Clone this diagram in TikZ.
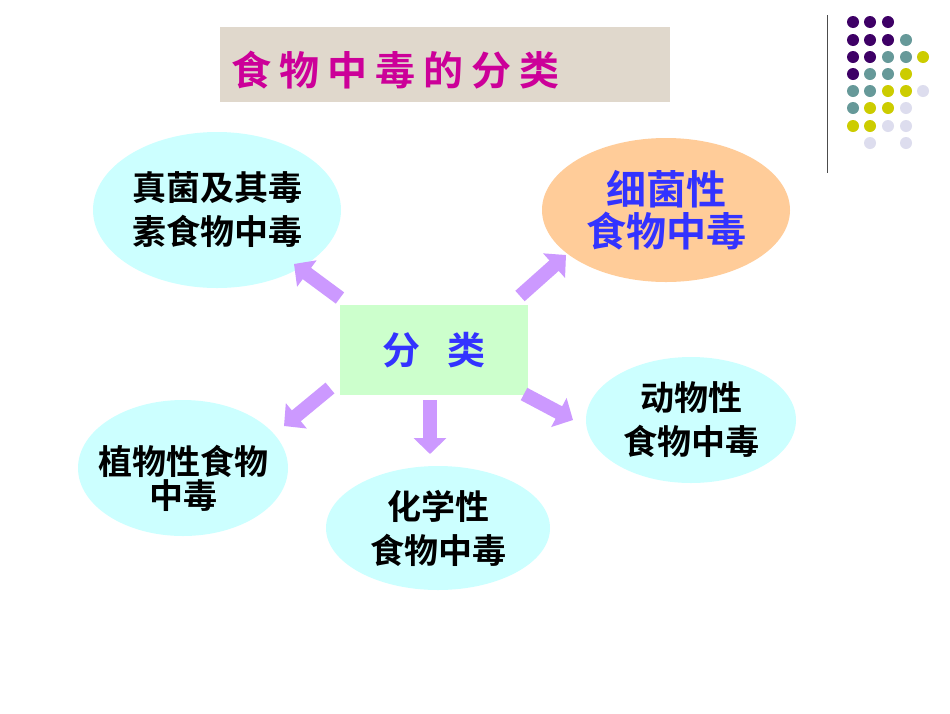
\documentclass[tikz,border=0pt]{standalone}
\usepackage{fontspec}
\newfontfamily\cjk{Noto Sans CJK SC}[BoldFont={Noto Sans CJK SC Bold}]
\usetikzlibrary{arrows.meta,shapes.geometric}
\definecolor{pur}{HTML}{3E0066}
\definecolor{tea}{HTML}{669999}
\definecolor{yel}{HTML}{CCCC00}
\definecolor{lav}{HTML}{DDDDEE}
\definecolor{arr}{HTML}{CC99FF}
\definecolor{cy}{HTML}{CCFFFF}
\definecolor{blu}{HTML}{3333FF}
\begin{document}
\begin{tikzpicture}[x=1pt,y=-1pt,
 ell/.style={ellipse,fill=cy,draw=none,inner sep=0pt,align=center,font=\cjk\bfseries\fontsize{34}{44}\selectfont},
 big/.style={line width=14pt,draw=arr,-{Triangle[length=16pt,width=32pt]}},
 dot/.style={circle,inner sep=0pt,minimum size=12pt}]
\useasboundingbox (0,0) rectangle (950,713);
\fill[white] (0,0) rectangle (950,713);
\node[fill={rgb,255:red,224;green,216;blue,204},minimum width=450pt,minimum height=75pt,inner sep=0pt] (title) at (445,64.5) {};
\node[anchor=west,text={rgb,255:red,204;green,0;blue,153},font=\cjk\bfseries\fontsize{40}{40}\selectfont] (tt) at (228,70) {食\hspace{0.2em}物\hspace{0.2em}中\hspace{0.2em}毒\hspace{0.2em}的\hspace{0.2em}分\hspace{0.2em}类};
\node[fill={rgb,255:red,204;green,255;blue,204},minimum width=188pt,minimum height=90pt,inner sep=0pt,text=blu,font=\cjk\bfseries\fontsize{38}{40}\selectfont] (box) at (434,350) {分\hspace{0.7em}类};
\node[ell,minimum width=248pt,minimum height=156pt] (e1) at (217,210) {真菌及其毒\\素食物中毒};
\node[ell,fill={rgb,255:red,255;green,204;blue,153},text=blu,minimum width=248pt,minimum height=144pt,font=\cjk\bfseries\fontsize{40}{42}\selectfont] (e2) at (666,210) {细菌性\\食物中毒};
\node[ell,minimum width=210pt,minimum height=126pt] (e3) at (691,420) {动物性\\食物中毒};
\node[ell,minimum width=224pt,minimum height=124pt] (e4) at (438,528) {化学性\\食物中毒};
\node[ellipse,fill=cy,inner sep=0pt,minimum width=210pt,minimum height=136pt] (e5) at (183,468) {};
\node[align=center,font=\cjk\bfseries\fontsize{34}{34}\selectfont] (t5) at (183,478) {植物性食物\\中毒};
\coordinate (a1s) at (340,298); \coordinate (a1e) at (294,264);
\coordinate (a2s) at (520,296); \coordinate (a2e) at (566,255);
\coordinate (a3s) at (524,394); \coordinate (a3e) at (573,420);
\coordinate (a4s) at (430,400); \coordinate (a4e) at (430,454);
\coordinate (a5s) at (330,388); \coordinate (a5e) at (284,426);
\draw[big] (a1s) -- (a1e);
\draw[big] (a2s) -- (a2e);
\draw[big] (a3s) -- (a3e);
\draw[big] (a4s) -- (a4e);
\draw[big] (a5s) -- (a5e);
\coordinate (l1) at (827,15); \coordinate (l2) at (827,173);
\draw[line width=1pt,black!70] (l1) -- (l2);
\foreach \x/\y/\c in {853/22/pur,870/22/pur,888/22/pur,
853/40/pur,870/40/pur,888/40/pur,906/40/tea,
853/57/pur,870/57/pur,888/57/tea,906/57/tea,923/57/yel,
853/74/pur,870/74/tea,888/74/tea,906/74/yel,
853/91/tea,870/91/tea,888/91/yel,906/91/yel,923/91/lav,
853/108/tea,870/108/yel,888/108/yel,906/108/lav,
853/126/yel,870/126/yel,888/126/lav,906/126/lav,
870/143/lav,906/143/lav}
 \node[dot,fill=\c] at (\x,\y) {};
\end{tikzpicture}
\end{document}
